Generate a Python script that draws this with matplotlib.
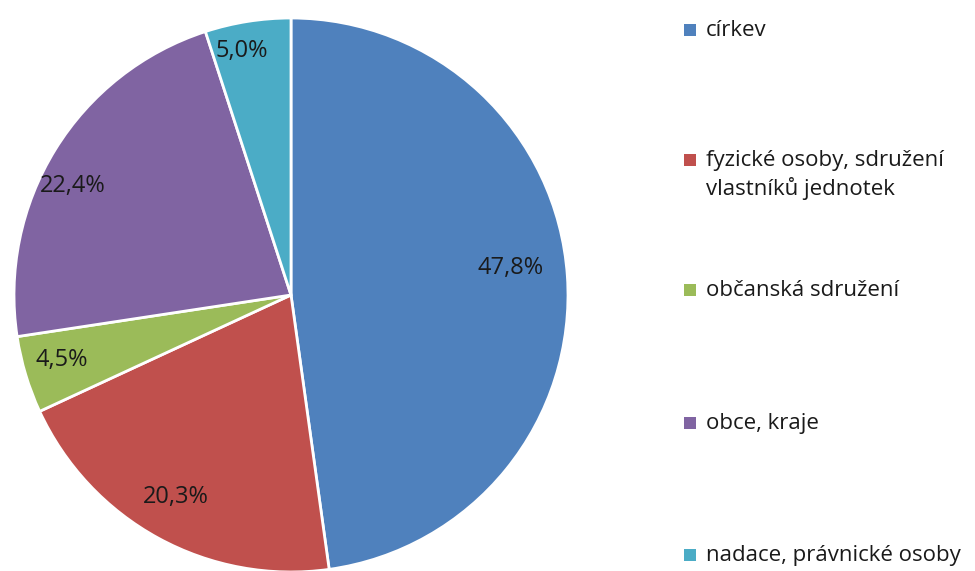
import matplotlib
matplotlib.use("Agg")
import matplotlib.pyplot as plt
from matplotlib.patches import Rectangle
import numpy as np

categories = ["církev", "fyzické osoby, sdružení\nvlastníků jednotek", "občanská sdružení",
              "obce, kraje", "nadace, právnické osoby"]
values = [47.8, 20.3, 4.5, 22.4, 5.0]
value_labels = ["47,8%", "20,3%", "4,5%", "22,4%", "5,0%"]
colors = ["#4F81BD", "#C0504D", "#9BBB59", "#8064A2", "#4BACC6"]

label_dist = [0.80, 0.84, 0.86, 0.88, 0.90]
label_ang_off = [3.0, -1.0, -1.0, 5.0, 2.5]
legend_y = [30, 160, 290, 423, 555]  # pixel y (from top) of first line of legend entries

plt.rcParams['font.family'] = ['Open Sans', 'DejaVu Sans']
W, H = 975, 571
fig = plt.figure(figsize=(W / 100, H / 100), dpi=100)
cx, cy, R = 291, 295, 277
ax = fig.add_axes([(cx - R) / W, (H - cy - R) / H, 2 * R / W, 2 * R / H])
wedges, _ = ax.pie(values, colors=colors, startangle=90, counterclock=False, radius=1,
                   wedgeprops=dict(edgecolor="white", linewidth=2))
ax.set_xlim(-1, 1)
ax.set_ylim(-1, 1)
ax.set_aspect("equal")
ax.axis("off")

for w, lab, d, off in zip(wedges, value_labels, label_dist, label_ang_off):
    ang = np.deg2rad((w.theta1 + w.theta2) / 2 + off)
    ax.text(d * np.cos(ang), d * np.sin(ang), lab, ha="center", va="center",
            fontsize=17, color="#1a1a1a")

for cat, col, y in zip(categories, colors, legend_y):
    fig.patches.append(Rectangle((684 / W, 1 - (y + 6) / H), 12 / W, 12 / H,
                                 transform=fig.transFigure, facecolor=col, edgecolor="none"))
    fig.text(706 / W, 1 - (y - 10) / H, cat, ha="left", va="top", fontsize=16,
             color="#1a1a1a", linespacing=1.35)

fig.savefig("out.png", dpi=100)
